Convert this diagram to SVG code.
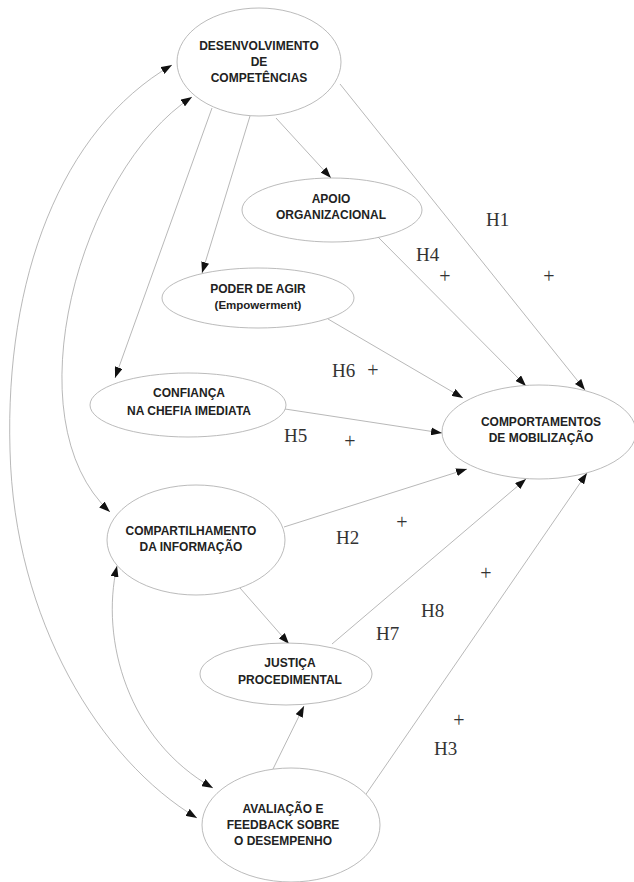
<svg xmlns="http://www.w3.org/2000/svg" width="634" height="882" viewBox="0 0 634 882">
<style>
.node ellipse{fill:#fff;stroke:#aaa;stroke-width:0.8}
.node text{font-family:"Liberation Sans",Arial,sans-serif;font-weight:bold;font-size:12px;fill:#222;text-anchor:middle}
.edge{fill:none;stroke:#999;stroke-width:0.7}
.lbl{font-family:"Liberation Serif","Times New Roman",serif;font-size:19px;fill:#333}
.plus{font-family:"Liberation Serif","Times New Roman",serif;font-size:20px;fill:#333;text-anchor:middle}
</style>
<defs>
<marker id="ah" viewBox="0 0 11 8" refX="11" refY="4" markerWidth="11" markerHeight="8" markerUnits="userSpaceOnUse" orient="auto-start-reverse">
<path d="M0,0 L11,4 L0,8 z" fill="#111"/>
</marker>
</defs>
<rect width="634" height="882" fill="#fff"/>
<g id="connectors">
<path class="edge" d="M172,65 C60,130 5,280 10,450 C14,620 100,760 197,818" marker-start="url(#ah)" marker-end="url(#ah)"/>
<path class="edge" d="M192,97 C80,170 10,420 110,512" marker-start="url(#ah)" marker-end="url(#ah)"/>
<path class="edge" d="M117,566 C100,640 128,740 213,788" marker-start="url(#ah)" marker-end="url(#ah)"/>
<line class="edge" x1="276" y1="118" x2="331" y2="178" marker-end="url(#ah)"/>
<line class="edge" x1="250" y1="116" x2="202" y2="273" marker-end="url(#ah)"/>
<line class="edge" x1="212" y1="108" x2="115" y2="378" marker-end="url(#ah)"/>
<line class="edge" x1="340" y1="84" x2="585" y2="390" marker-end="url(#ah)"/>
<line class="edge" x1="375" y1="234" x2="526" y2="386" marker-end="url(#ah)"/>
<line class="edge" x1="328" y1="319" x2="463" y2="398" marker-end="url(#ah)"/>
<line class="edge" x1="285" y1="409" x2="442" y2="433" marker-end="url(#ah)"/>
<line class="edge" x1="284" y1="527" x2="467" y2="469" marker-end="url(#ah)"/>
<line class="edge" x1="332" y1="644" x2="526" y2="479" marker-end="url(#ah)"/>
<line class="edge" x1="362" y1="800" x2="587" y2="473" marker-end="url(#ah)"/>
<line class="edge" x1="240" y1="588" x2="289" y2="644" marker-end="url(#ah)"/>
<line class="edge" x1="273" y1="769" x2="304" y2="706" marker-end="url(#ah)"/>
</g>
<g id="n-desenvolvimento" class="node">
<ellipse cx="259" cy="62" rx="82" ry="54"/>
<text x="259" y="50">DESENVOLVIMENTO</text>
<text x="259" y="66">DE</text>
<text x="259" y="82">COMPETÊNCIAS</text>
</g>
<g id="n-apoio" class="node">
<ellipse cx="332" cy="210" rx="90" ry="32"/>
<text x="331" y="203">APOIO</text>
<text x="331" y="219">ORGANIZACIONAL</text>
</g>
<g id="n-poder" class="node">
<ellipse cx="258" cy="298" rx="96" ry="30"/>
<text x="258" y="293">PODER DE AGIR</text>
<text x="258" y="309" style="font-size:11.5px">(Empowerment)</text>
</g>
<g id="n-confianca" class="node">
<ellipse cx="188" cy="405" rx="98" ry="32"/>
<text x="189" y="397">CONFIANÇA</text>
<text x="189" y="415">NA CHEFIA IMEDIATA</text>
</g>
<g id="n-comportamentos" class="node">
<ellipse cx="539" cy="432" rx="97" ry="47"/>
<text x="541" y="426">COMPORTAMENTOS</text>
<text x="541" y="442">DE MOBILIZAÇÃO</text>
</g>
<g id="n-compartilhamento" class="node">
<ellipse cx="196" cy="540" rx="89" ry="55"/>
<text x="191" y="535">COMPARTILHAMENTO</text>
<text x="191" y="551">DA INFORMAÇÃO</text>
</g>
<g id="n-justica" class="node">
<ellipse cx="286" cy="674" rx="86" ry="31"/>
<text x="290" y="667">JUSTIÇA</text>
<text x="290" y="684">PROCEDIMENTAL</text>
</g>
<g id="n-avaliacao" class="node">
<ellipse cx="291" cy="825" rx="89" ry="57"/>
<text x="283" y="813">AVALIAÇÃO E</text>
<text x="283" y="829">FEEDBACK SOBRE</text>
<text x="283" y="845">O DESEMPENHO</text>
</g>
<g id="labels">
<text class="lbl" x="486" y="226">H1</text>
<text class="plus" x="549" y="283">+</text>
<text class="lbl" x="416" y="261">H4</text>
<text class="plus" x="445" y="283">+</text>
<text class="lbl" x="332" y="377">H6</text>
<text class="plus" x="373" y="377">+</text>
<text class="lbl" x="284" y="442">H5</text>
<text class="plus" x="350" y="448">+</text>
<text class="lbl" x="336" y="544">H2</text>
<text class="plus" x="402" y="529">+</text>
<text class="plus" x="486" y="580">+</text>
<text class="lbl" x="421" y="617">H8</text>
<text class="lbl" x="376" y="640">H7</text>
<text class="plus" x="459" y="727">+</text>
<text class="lbl" x="434" y="755">H3</text>
</g>
</svg>
